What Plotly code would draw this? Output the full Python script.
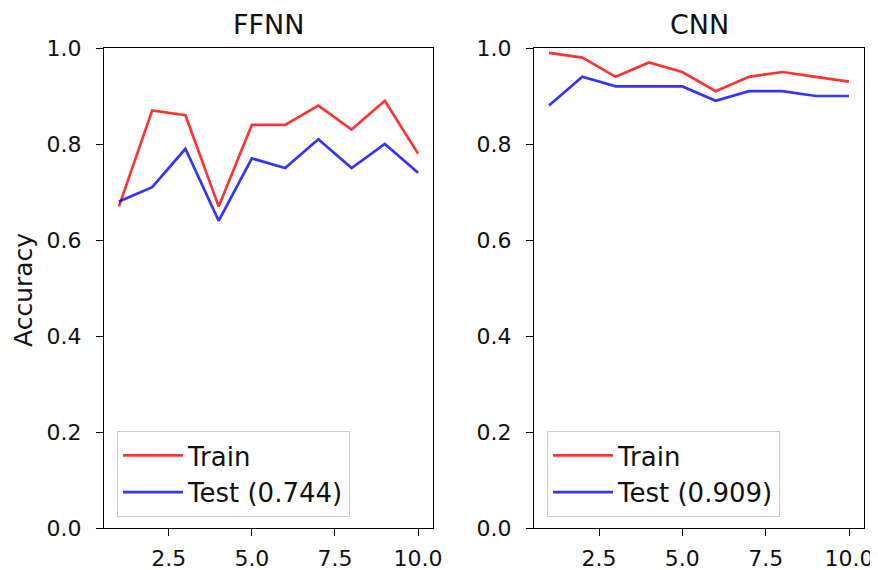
import plotly.graph_objects as go

epochs = [1, 2, 3, 4, 5, 6, 7, 8, 9, 10]
ffnn_train = [0.67, 0.87, 0.86, 0.67, 0.84, 0.84, 0.88, 0.83, 0.89, 0.78]
ffnn_test = [0.68, 0.71, 0.79, 0.64, 0.77, 0.75, 0.81, 0.75, 0.80, 0.74]
cnn_train = [0.99, 0.98, 0.94, 0.97, 0.95, 0.91, 0.94, 0.95, 0.94, 0.93]
cnn_test = [0.88, 0.94, 0.92, 0.92, 0.92, 0.89, 0.91, 0.91, 0.90, 0.90]
titles = ["FFNN", "CNN"]
test_labels = ["Test (0.744)", "Test (0.909)"]
x_ticks = [2.5, 5.0, 7.5, 10.0]
y_ticks = [0.0, 0.2, 0.4, 0.6, 0.8, 1.0]

# page body has an 8px margin; work in window pixels and convert
OFF = 8
W, H = 870, 562
FONT = "DejaVu Sans"
TXT = "#111111"
RED = "rgba(255,0,0,0.8)"
BLUE = "rgba(0,0,255,0.8)"
LW = 2.7


def px(x):
    return (x - OFF) / W


def py(y):
    return (H - (y - OFF)) / H


fig = go.Figure()
fig.add_trace(go.Scatter(x=epochs, y=ffnn_train, mode="lines", name="Train",
                         line=dict(color=RED, width=LW), xaxis="x", yaxis="y", legend="legend"))
fig.add_trace(go.Scatter(x=epochs, y=ffnn_test, mode="lines", name=test_labels[0],
                         line=dict(color=BLUE, width=LW), xaxis="x", yaxis="y", legend="legend"))
fig.add_trace(go.Scatter(x=epochs, y=cnn_train, mode="lines", name="Train",
                         line=dict(color=RED, width=LW), xaxis="x2", yaxis="y2", legend="legend2"))
fig.add_trace(go.Scatter(x=epochs, y=cnn_test, mode="lines", name=test_labels[1],
                         line=dict(color=BLUE, width=LW), xaxis="x2", yaxis="y2", legend="legend2"))

ydom = [py(528), py(48)]
d1 = [px(104), px(433)]
d2 = [px(534), px(864)]

axcommon = dict(showline=True, linecolor="black", linewidth=1.2, mirror=True,
                ticks="outside", ticklen=7, tickwidth=1.2, tickcolor="black",
                showgrid=False, zeroline=False, automargin=False,
                tickfont=dict(family=FONT, size=22, color=TXT))

xax = dict(axcommon, range=[0.55, 10.45], tickvals=x_ticks,
           ticktext=[f"{v:.1f}" for v in x_ticks], ticklabelstandoff=3)
yax = dict(axcommon, range=[0, 1.0], tickvals=y_ticks,
           ticktext=[f"{v:.1f}" for v in y_ticks], ticklabelstandoff=10)

legcommon = dict(font=dict(family=FONT, size=26, color=TXT),
                 bgcolor="rgba(255,255,255,0.8)", bordercolor="#cccccc", borderwidth=1,
                 xanchor="left", yanchor="bottom", tracegroupgap=0, itemwidth=60)

fig.update_layout(
    width=W, height=H,
    margin=dict(l=0, r=0, t=0, b=0, autoexpand=False),
    paper_bgcolor="white", plot_bgcolor="white",
    xaxis=dict(xax, domain=d1, anchor="y"),
    yaxis=dict(yax, domain=ydom, anchor="x"),
    xaxis2=dict(xax, domain=d2, anchor="y2"),
    yaxis2=dict(yax, domain=ydom, anchor="x2"),
    legend=dict(legcommon, x=px(117), y=py(517)),
    legend2=dict(legcommon, x=px(547), y=py(517)),
    annotations=[
        dict(text=titles[0], x=(d1[0] + d1[1]) / 2, y=py(25), xref="paper", yref="paper",
             showarrow=False, xanchor="center", yanchor="middle",
             font=dict(family=FONT, size=27, color=TXT)),
        dict(text=titles[1], x=(d2[0] + d2[1]) / 2, y=py(25), xref="paper", yref="paper",
             showarrow=False, xanchor="center", yanchor="middle",
             font=dict(family=FONT, size=27, color=TXT)),
        dict(text="Accuracy", x=px(23), y=py(290), xref="paper", yref="paper",
             showarrow=False, xanchor="center", yanchor="middle", textangle=-90,
             font=dict(family=FONT, size=25, color=TXT)),
    ],
)

fig.write_html("out.html")
